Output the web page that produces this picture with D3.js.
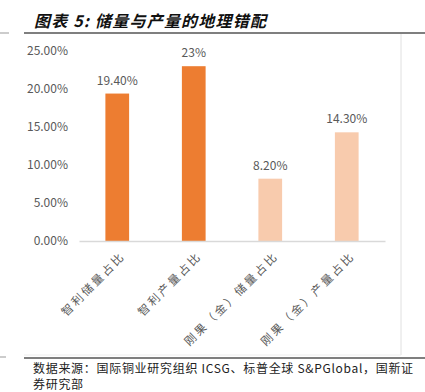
<!DOCTYPE html>
<html>
<head>
<meta charset="utf-8">
<script src="https://cdn.jsdelivr.net/npm/d3@7"></script>
<style>
  body { margin: 0; background: #fff; }
  text { font-family: "Noto Sans CJK SC", "Liberation Sans", sans-serif; }
</style>
</head>
<body>
<div id="chart"></div>
<script>
// data
var categories = ["智利储量占比", "智利产量占比", "刚果（金）储量占比", "刚果（金）产量占比"];
var values = [19.4, 23, 8.2, 14.3];
var valueLabels = ["19.40%", "23%", "8.20%", "14.30%"];
var barColors = ["#ED7D31", "#ED7D31", "#F8CBAD", "#F8CBAD"];
var yTicks = [0, 5, 10, 15, 20, 25];

var W = 425, H = 392;
var svg = d3.select("#chart").append("svg")
    .attr("width", W)
    .attr("height", H);

// title and frame lines
svg.append("text")
    .attr("x", 34).attr("y", 27)
    .attr("font-size", 16).attr("font-weight", "bold").attr("font-style", "italic")
    .attr("letter-spacing", 1.2)
    .attr("fill", "#111")
    .text("图表 5:  储量与产量的地理错配");
svg.append("line").attr("x1", 24).attr("x2", 425).attr("y1", 33).attr("y2", 33)
    .attr("stroke", "#555").attr("stroke-width", 1.5);
svg.append("line").attr("x1", 0).attr("x2", 9).attr("y1", 33).attr("y2", 33)
    .attr("stroke", "#999").attr("stroke-width", 1);
svg.append("line").attr("x1", 401).attr("x2", 401).attr("y1", 34).attr("y2", 355)
    .attr("stroke", "#e0e0e0").attr("stroke-width", 1);
svg.append("line").attr("x1", 24).attr("x2", 401).attr("y1", 355).attr("y2", 355)
    .attr("stroke", "#eeeeee").attr("stroke-width", 1);
svg.append("line").attr("x1", 24).attr("x2", 425).attr("y1", 358).attr("y2", 358)
    .attr("stroke", "#555").attr("stroke-width", 1.5);
svg.append("line").attr("x1", 0).attr("x2", 6).attr("y1", 357).attr("y2", 357)
    .attr("stroke", "#999").attr("stroke-width", 1);

// footer
svg.append("text")
    .attr("x", 33).attr("y", 373)
    .attr("font-size", 12).attr("fill", "#222")
    .attr("letter-spacing", 0.7)
    .text("数据来源：国际铜业研究组织 ICSG、标普全球 S&PGlobal，国新证");
svg.append("text")
    .attr("x", 33).attr("y", 389)
    .attr("font-size", 12).attr("fill", "#222")
    .attr("letter-spacing", 0.7)
    .text("券研究部");

// scales
var x = d3.scaleBand()
    .domain(categories)
    .range([79, 385])
    .paddingInner(0.69)
    .paddingOuter(0.345);

var y = d3.scaleLinear()
    .domain([0, 25])
    .range([241, 51]);

// y axis labels
var yAxis = svg.append("g")
    .attr("transform", "translate(68,0)")
    .call(d3.axisLeft(y).tickValues(yTicks).tickSize(0).tickPadding(0)
      .tickFormat(function(d) { return d.toFixed(2) + "%"; }));
yAxis.select(".domain").remove();
yAxis.selectAll("text")
    .attr("font-family", "'Liberation Sans', sans-serif")
    .attr("font-size", 12).attr("fill", "#595959");

// bars
svg.append("g").selectAll("rect")
    .data(values)
    .enter().append("rect")
      .attr("x", function(d, i) { return x(categories[i]); })
      .attr("y", function(d) { return y(d); })
      .attr("width", x.bandwidth())
      .attr("height", function(d) { return y(0) - y(d); })
      .attr("fill", function(d, i) { return barColors[i]; });

// value labels
svg.append("g").selectAll("text")
    .data(values)
    .enter().append("text")
      .attr("x", function(d, i) { return x(categories[i]) + x.bandwidth() / 2; })
      .attr("y", function(d) { return y(d) - 9; })
      .attr("text-anchor", "middle")
      .attr("font-family", "'Liberation Sans', sans-serif")
      .attr("font-size", 12).attr("fill", "#595959")
      .text(function(d, i) { return valueLabels[i]; });

// x axis
var xAxis = svg.append("g")
    .attr("transform", "translate(0," + y(0) + ")")
    .call(d3.axisBottom(x).tickSize(0).tickPadding(0));
xAxis.select(".domain").attr("stroke", "#d9d9d9").attr("stroke-width", 1.5);
xAxis.selectAll("text")
    .attr("font-size", 11.5).attr("fill", "#595959")
    .attr("letter-spacing", 2.6)
    .attr("text-anchor", "end")
    .attr("dy", "0.35em")
    .attr("transform", "translate(6,13) rotate(-45)");
</script>
</body>
</html>
